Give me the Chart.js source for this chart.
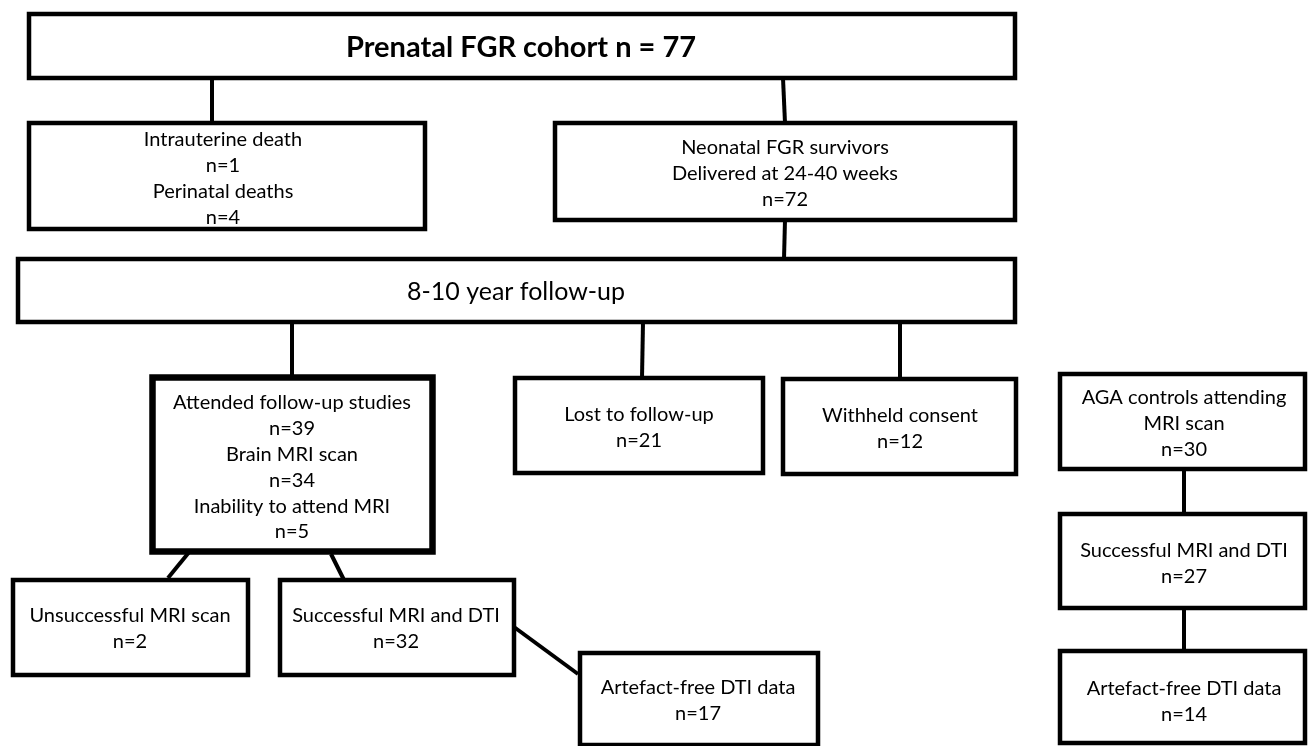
<!DOCTYPE html>
<html>
<head>
<meta charset="utf-8">
<title>FGR cohort flow chart</title>
<script src="https://cdn.jsdelivr.net/npm/chart.js@4.4.1/dist/chart.umd.min.js"></script>
<style>
  html, body { margin: 0; padding: 0; background: #fff; }
  canvas { display: block; }
</style>
</head>
<body>
<canvas id="flow" width="1308" height="746"></canvas>
<script>
// Flow chart data: box labels and the counts that go with them
const boxLabels = [
  ["Prenatal FGR cohort"],
  ["Intrauterine death", "Perinatal deaths"],
  ["Neonatal FGR survivors\nDelivered at 24-40 weeks"],
  ["8-10 year follow-up"],
  ["Attended follow-up studies", "Brain MRI scan", "Inability to attend MRI"],
  ["Lost to follow-up"],
  ["Withheld consent"],
  ["Unsuccessful MRI scan"],
  ["Successful MRI and DTI"],
  ["Artefact-free DTI data"],
  ["AGA controls attending\nMRI scan"],
  ["Successful MRI and DTI"],
  ["Artefact-free DTI data"]
];
const boxCounts = [[77], [1, 4], [72], [], [39, 34, 5], [21], [12], [2], [32], [17], [30], [27], [14]];

// Layout (chart units = page pixels)
const boxes = [
  { x0: 29, y0: 14, x1: 1015, y1: 78, lw: 4.5, tx: 521, ty: 48, gap: 0, font: "bold 29px Lato" },
  { x0: 29, y0: 123, x1: 425, y1: 229, lw: 4.5, tx: 223, ty: 140, gap: 26 },
  { x0: 555, y0: 123, x1: 1015, y1: 220, lw: 4.5, tx: 785, ty: 148, gap: 26 },
  { x0: 18, y0: 259, x1: 1015, y1: 322, lw: 4.5, tx: 516, ty: 292, gap: 0, font: "25px Lato" },
  { x0: 152.5, y0: 377.5, x1: 432.5, y1: 551.5, lw: 6.5, tx: 292, ty: 403, gap: 25.8 },
  { x0: 515, y0: 378, x1: 763, y1: 473, lw: 4.5, tx: 639, ty: 415, gap: 26 },
  { x0: 783, y0: 379, x1: 1016, y1: 474, lw: 4.5, tx: 900, ty: 416, gap: 26 },
  { x0: 13, y0: 580, x1: 248, y1: 675, lw: 4.5, tx: 130, ty: 616, gap: 26 },
  { x0: 280, y0: 580, x1: 514, y1: 675, lw: 4.5, tx: 396, ty: 616, gap: 26 },
  { x0: 580, y0: 653, x1: 818, y1: 745, lw: 4.5, tx: 698, ty: 688, gap: 26 },
  { x0: 1060, y0: 374, x1: 1305, y1: 469, lw: 4.5, tx: 1184, ty: 398, gap: 26 },
  { x0: 1060, y0: 514, x1: 1305, y1: 608, lw: 4.5, tx: 1184, ty: 551, gap: 26 },
  { x0: 1060, y0: 651, x1: 1305, y1: 743, lw: 4.5, tx: 1184, ty: 689, gap: 26 }
];

const links = [
  [[212, 78], [212, 123]],
  [[783, 78], [785, 123]],
  [[785, 220], [784, 259]],
  [[292, 322], [292, 377]],
  [[643, 322], [642, 378]],
  [[900, 322], [900, 379]],
  [[190, 551], [168, 578]],
  [[331, 554], [344, 580]],
  [[514, 627], [578, 674]],
  [[1184, 469], [1184, 514]],
  [[1184, 608], [1184, 651]]
];

function boxLines(i) {
  if (i === 0) return [boxLabels[0][0] + " n = " + boxCounts[0][0]];
  const out = [];
  boxLabels[i].forEach((lab, k) => {
    lab.split("\n").forEach(s => out.push(s));
    if (boxCounts[i][k] != null) out.push("n=" + boxCounts[i][k]);
  });
  return out;
}

const datasets = [];
boxes.forEach(b => {
  datasets.push({
    data: [
      { x: b.x0, y: b.y0 }, { x: b.x1, y: b.y0 },
      { x: b.x1, y: b.y1 }, { x: b.x0, y: b.y1 }, { x: b.x0, y: b.y0 }
    ],
    borderColor: "#000",
    borderWidth: b.lw,
    borderJoinStyle: "miter",
    borderCapStyle: "square"
  });
});
links.forEach(l => {
  datasets.push({
    data: l.map(p => ({ x: p[0], y: p[1] })),
    borderColor: "#000",
    borderWidth: 4,
    borderCapStyle: "butt"
  });
});
datasets.forEach(d => {
  d.showLine = true;
  d.pointRadius = 0;
  d.fill = false;
  d.tension = 0;
  d.clip = false;
});

// Box texts
const boxText = {
  id: "boxText",
  afterDatasetsDraw(chart) {
    const ctx = chart.ctx;
    const xs = chart.scales.x;
    const ys = chart.scales.y;
    ctx.save();
    ctx.fillStyle = "#000";
    ctx.textAlign = "center";
    ctx.textBaseline = "middle";
    boxes.forEach((b, i) => {
      ctx.font = b.font || "20px Lato";
      boxLines(i).forEach((line, k) => {
        ctx.fillText(line, xs.getPixelForValue(b.tx), ys.getPixelForValue(b.ty + k * b.gap));
      });
    });
    ctx.restore();
  }
};

new Chart(document.getElementById("flow"), {
  type: "scatter",
  data: { datasets: datasets },
  options: {
    responsive: false,
    animation: false,
    events: [],
    layout: { padding: 0 },
    scales: {
      x: { type: "linear", min: 0, max: 1308, display: false },
      y: { type: "linear", min: 0, max: 746, reverse: true, display: false }
    },
    plugins: {
      legend: { display: false },
      tooltip: { enabled: false }
    }
  },
  plugins: [boxText]
});
</script>
</body>
</html>
